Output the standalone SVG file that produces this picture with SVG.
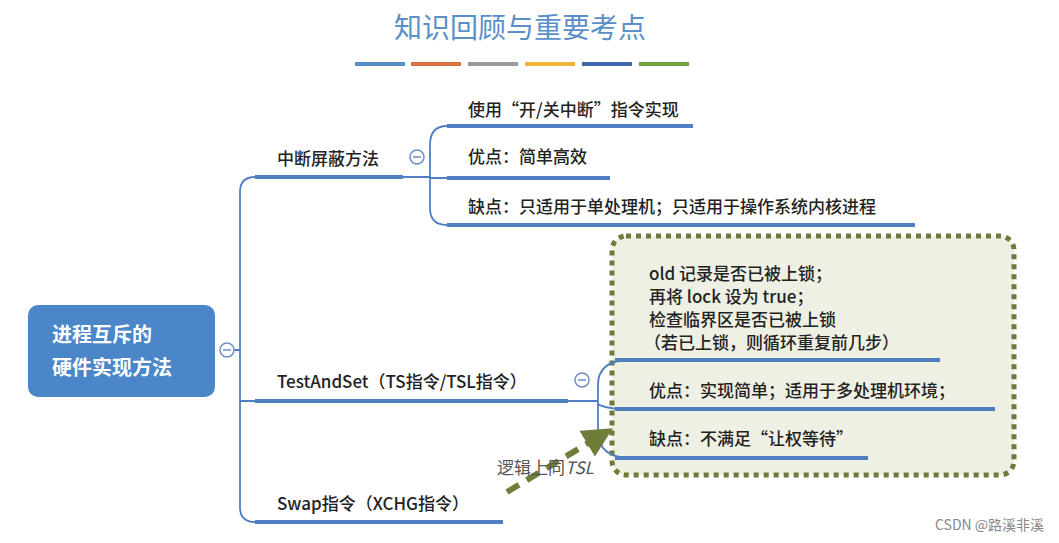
<svg xmlns="http://www.w3.org/2000/svg" width="1059" height="543" viewBox="0 0 1059 543">
<defs>
<style>
text{font-family:"Noto Sans CJK SC","Noto Sans",sans-serif;fill:#222;font-size:17px;font-weight:500}
.u{stroke:#4f7fc0;stroke-width:4;fill:none}
.c{stroke:#4f7fc0;stroke-width:1.8;fill:none}
.ci{fill:#fff;stroke:#6b8fc7;stroke-width:1.5}
</style>
<marker id="ah" viewBox="0 0 10 10" refX="5" refY="5" markerWidth="5" markerHeight="5" orient="auto"><path d="M0,0L10,5L0,10z" fill="#6f7d3a"/></marker>
</defs>
<rect width="1059" height="543" fill="#fff"/>
<text x="520" y="38" text-anchor="middle" style="font-size:28px;fill:#5b8fc7;font-weight:400">知识回顾与重要考点</text>
<g>
<rect x="355" y="62" width="50" height="4" fill="#5b8fc7"/><rect x="411" y="62" width="50" height="4" fill="#d9703f"/><rect x="468" y="62" width="50" height="4" fill="#9b9b9b"/><rect x="525" y="62" width="50" height="4" fill="#f0b43a"/><rect x="582" y="62" width="50" height="4" fill="#3f68ad"/><rect x="639" y="62" width="50" height="4" fill="#6ea343"/>
</g>
<rect x="612" y="236" width="402" height="239" rx="14" fill="#eef0e3" stroke="#6f7a3a" stroke-width="5" stroke-dasharray="5 5"/>
<g id="connectors">
<path class="c" d="M227,350 H240 M255,177 Q240,177 240,192 V507 Q240,522 255,522 M240,401 H255"/>
<path class="u" d="M255,177 H403 M255,401 H568 M255,522 H503"/>
<path class="c" d="M403,177 H430 M447,126 Q430,126 430,145 V208 Q430,225 447,225 M430,178 H447"/>
<path class="u" d="M447,126 H693 M447,178 H610 M447,225 H915"/>
<path class="c" d="M568,401 H598 M630,360 Q598,360 598,385 V430 Q598,458 630,458 M598,404 Q605,409 630,409"/>
<path class="u" d="M615,360 H940 M615,409 H995 M615,458 H868"/>
<path d="M507,492 L600,436" stroke="#6f7d3a" stroke-width="6" stroke-dasharray="14 9" fill="none" marker-end="url(#ah)"/>
</g>
<g id="root"><rect x="28" y="305" width="187" height="92" rx="10" fill="#4a86c8"/>
<text x="52" y="342" style="fill:#fff;font-size:20px;font-weight:bold">进程互斥的</text>
<text x="52" y="375" style="fill:#fff;font-size:20px;font-weight:bold">硬件实现方法</text>
<circle class="ci" cx="227" cy="350" r="7"/><path d="M223,350H231" stroke="#6b8fc7" stroke-width="1.5"/></g>
<g id="n1"><text x="277" y="165">中断屏蔽方法</text><circle class="ci" cx="417" cy="157" r="7"/><path d="M413,157H421" stroke="#6b8fc7" stroke-width="1.5"/></g>
<g id="n1a"><text x="468" y="116">使用“开/关中断”指令实现</text></g>
<g id="n1b"><text x="468" y="163">优点：简单高效</text></g>
<g id="n1c"><text x="468" y="213">缺点：只适用于单处理机；只适用于操作系统内核进程</text></g>
<g id="n2"><text x="277" y="388">TestAndSet（TS指令/TSL指令）</text><circle class="ci" cx="582" cy="380" r="7"/><path d="M578,380H586" stroke="#6b8fc7" stroke-width="1.5"/></g>
<g id="n2a"><text x="649" y="280">old 记录是否已被上锁；</text><text x="649" y="303">再将 lock 设为 true；</text><text x="649" y="326">检查临界区是否已被上锁</text><text x="644" y="349">（若已上锁，则循环重复前几步）</text></g>
<g id="n2b"><text x="649" y="397">优点：实现简单；适用于多处理机环境；</text></g>
<g id="n2c"><text x="649" y="445">缺点：不满足“让权等待”</text></g>
<g id="n3"><text x="277" y="510">Swap指令（XCHG指令）</text></g>
<text x="497" y="474" style="fill:#555;font-weight:400">逻辑上同<tspan font-style="italic">TSL</tspan></text>
<text x="935" y="530" style="fill:#888;font-size:14px;font-weight:400">CSDN @路溪非溪</text>
</svg>
